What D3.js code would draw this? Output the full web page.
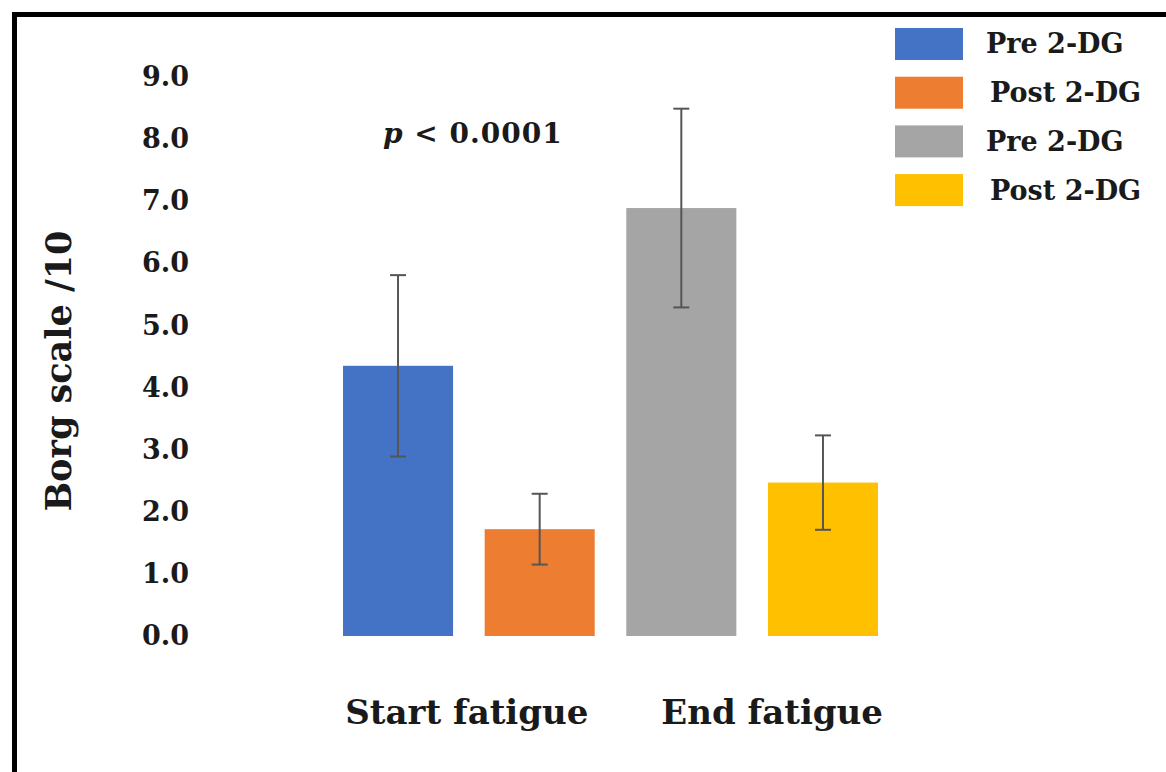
<!DOCTYPE html>
<html>
<head>
<meta charset="utf-8">
<script src="https://cdn.jsdelivr.net/npm/d3@7"></script>
<style>
  body { margin: 0; background: #fff; }
  svg { display: block; font-family: "DejaVu Serif", serif; font-weight: bold; }
</style>
</head>
<body>
<svg id="chart" width="1166" height="772"></svg>
<script>
const groups = ["Start fatigue", "End fatigue"];
const series = ["Pre 2-DG", "Post 2-DG", "Pre 2-DG", "Post 2-DG"];
const barGroup = [0, 0, 1, 1];
const means = [4.35, 1.72, 6.89, 2.47];
const errors = [1.46, 0.57, 1.6, 0.76];
const colors = ["#4472C4", "#ED7D31", "#A5A5A5", "#FFC000"];
const yTicks = [0, 1, 2, 3, 4, 5, 6, 7, 8, 9];

const svg = d3.select("#chart");

// frame: only top and left edges show
svg.append("line").attr("x1", 12).attr("x2", 1166).attr("y1", 14.5).attr("y2", 14.5)
  .attr("stroke", "#000").attr("stroke-width", 5);
svg.append("line").attr("x1", 14.5).attr("x2", 14.5).attr("y1", 12).attr("y2", 772)
  .attr("stroke", "#000").attr("stroke-width", 5);

const x = d3.scaleBand()
  .domain(d3.range(means.length))
  .range([343, 878])
  .paddingInner(0.223)
  .paddingOuter(0);

const y = d3.scaleLinear().domain([0, 9]).range([636, 77]);

const yAxis = svg.append("g")
  .attr("transform", "translate(189,0)")
  .call(d3.axisLeft(y).tickValues(yTicks).tickFormat(d3.format(".1f")).tickSize(0).tickPadding(0));
yAxis.select(".domain").remove();
yAxis.selectAll("text")
  .attr("font-family", "DejaVu Serif")
  .attr("font-weight", "bold")
  .attr("font-size", 27)
  .attr("fill", "#1a1a1a");

svg.append("text")
  .attr("transform", "translate(71,371) rotate(-90)")
  .attr("text-anchor", "middle")
  .attr("font-size", 35)
  .attr("fill", "#1a1a1a")
  .text("Borg scale /10");

svg.selectAll(".bar")
  .data(means)
  .enter()
  .append("rect")
  .attr("class", "bar")
  .attr("x", (d, i) => x(i))
  .attr("width", x.bandwidth())
  .attr("y", d => y(d))
  .attr("height", d => y(0) - y(d))
  .attr("fill", (d, i) => colors[i]);

const err = svg.selectAll(".err")
  .data(means)
  .enter()
  .append("g")
  .attr("class", "err")
  .attr("stroke", "#555")
  .attr("stroke-width", 2);

err.append("line")
  .attr("x1", (d, i) => x(i) + x.bandwidth() / 2)
  .attr("x2", (d, i) => x(i) + x.bandwidth() / 2)
  .attr("y1", (d, i) => y(d + errors[i]))
  .attr("y2", (d, i) => y(d - errors[i]));

[1, -1].forEach(s => {
  err.append("line")
    .attr("x1", (d, i) => x(i) + x.bandwidth() / 2 - 8)
    .attr("x2", (d, i) => x(i) + x.bandwidth() / 2 + 8)
    .attr("y1", (d, i) => y(d + s * errors[i]))
    .attr("y2", (d, i) => y(d + s * errors[i]));
});

svg.selectAll(".group-label")
  .data(groups)
  .enter()
  .append("text")
  .attr("class", "group-label")
  .attr("x", (g, gi) => {
    const idx = barGroup.map((b, i) => b === gi ? i : -1).filter(i => i >= 0);
    return (x(idx[0]) + x(idx[idx.length - 1]) + x.bandwidth()) / 2 + (gi === 1 ? 20 : -2);
  })
  .attr("y", 724)
  .attr("text-anchor", "middle")
  .attr("font-size", 34)
  .attr("fill", "#1a1a1a")
  .text(d => d);

const pText = svg.append("text")
  .attr("x", 383)
  .attr("y", 143)
  .attr("font-size", 28)
  .attr("letter-spacing", 1)
  .attr("fill", "#1a1a1a");
pText.append("tspan").attr("font-style", "italic").text("p");
pText.append("tspan").text(" < 0.0001");

const legend = svg.selectAll(".legend")
  .data(series)
  .enter()
  .append("g")
  .attr("class", "legend")
  .attr("transform", (d, i) => `translate(895,${28 + i * 48.7})`);

legend.append("rect")
  .attr("width", 68)
  .attr("height", 32)
  .attr("fill", (d, i) => colors[i]);

legend.append("text")
  .attr("x", (d, i) => d.startsWith("Post") ? 95 : 91)
  .attr("y", 16)
  .attr("dy", "0.35em")
  .attr("font-size", 27)
  .attr("fill", "#1a1a1a")
  .text(d => d);
</script>
</body>
</html>
